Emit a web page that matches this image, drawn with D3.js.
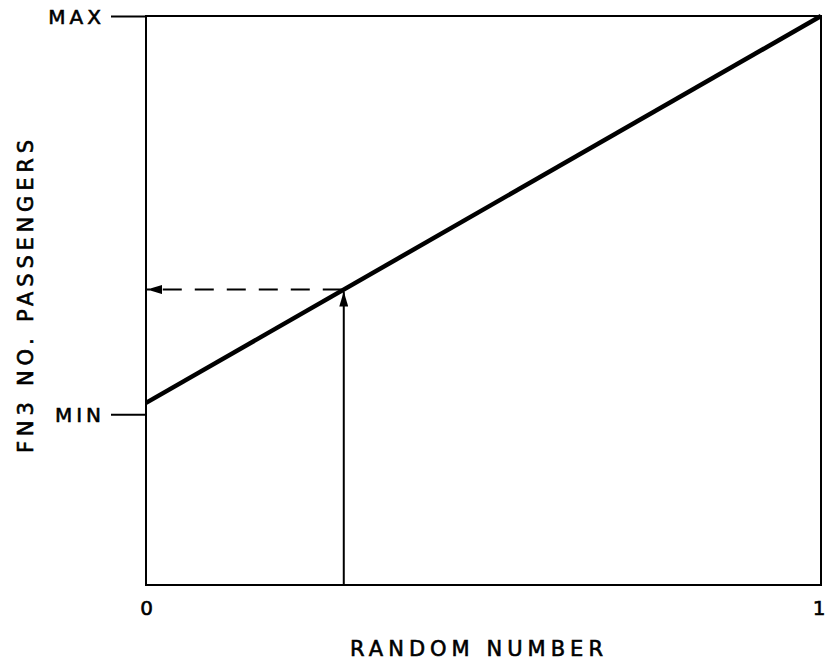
<!DOCTYPE html>
<html>
<head>
<meta charset="utf-8">
<script src="https://cdn.jsdelivr.net/npm/d3@7"></script>
<style>
  body { margin: 0; background: #fff; }
  text { font-family: "DejaVu Sans", sans-serif; fill: #000; stroke: #000; stroke-width: 0.6px; }
</style>
</head>
<body>
<script>
// valores
var xTickValues = [0, 1];
var xTickLabels = ["0", "1"];
var yTickValues = [0.30, 1];
var yTickLabels = ["MIN", "MAX"];
var lineX = [0, 1];
var lineY = [0.32, 1];
var sampleX = 0.293;   // numero aleatorio de exemplo
var xTitle = "RANDOM NUMBER";
var yTitle = "FN3 NO. PASSENGERS";

var margin = {top: 16, right: 4, bottom: 76, left: 146},
    width = 825 - margin.left - margin.right,
    height = 661 - margin.top - margin.bottom;

var svg = d3.select("body").append("svg")
    .attr("width", 825)
    .attr("height", 661);

var g = svg.append("g")
    .attr("transform", "translate(" + margin.left + "," + margin.top + ")");

var xScale = d3.scaleLinear().domain([0, 1]).range([0, width]);
var yScale = d3.scaleLinear().domain([0, 1]).range([height, 0]);

// setas
var defs = svg.append("defs");
defs.append("marker")
    .attr("id", "arrow")
    .attr("viewBox", "0 0 10 10")
    .attr("preserveAspectRatio", "none")
    .attr("refX", 10).attr("refY", 5)
    .attr("markerUnits", "userSpaceOnUse")
    .attr("markerWidth", 15).attr("markerHeight", 9)
    .attr("orient", "auto")
    .append("path")
    .attr("d", "M0,0 L10,5 L0,10 Z")
    .attr("fill", "#000");

// caixa
g.append("rect")
    .attr("x", 0).attr("y", 0)
    .attr("width", width).attr("height", height)
    .attr("fill", "none")
    .attr("stroke", "#000")
    .attr("stroke-width", 2);

// eixo y (MIN / MAX)
var yAxis = d3.axisLeft(yScale)
    .tickValues(yTickValues)
    .tickFormat((d, i) => yTickLabels[i])
    .tickSize(35)
    .tickPadding(10);

var ya = g.append("g").call(yAxis);
ya.select(".domain").remove();
ya.attr("font-family", null);
ya.selectAll("line").attr("stroke", "#000").attr("stroke-width", 2);
ya.selectAll("text")
    .style("font-size", "20px")
    .style("letter-spacing", "4px")
    .attr("dx", 4)
    .attr("dy", "0.36em");

// eixo x (0 / 1)
var xAxis = d3.axisBottom(xScale)
    .tickValues(xTickValues)
    .tickFormat((d, i) => xTickLabels[i])
    .tickSize(0)
    .tickPadding(16);

var xa = g.append("g")
    .attr("transform", "translate(0," + height + ")")
    .call(xAxis);
xa.select(".domain").remove();
xa.attr("font-family", null);
xa.selectAll("text").style("font-size", "20px");
xa.selectAll(".tick:last-of-type text").attr("text-anchor", "end").attr("dx", 4);

// linha principal
var lineData = lineX.map((x, i) => ({x: x, y: lineY[i]}));
var line = d3.line().x(d => xScale(d.x)).y(d => yScale(d.y));

g.append("path")
    .datum(lineData)
    .attr("d", line)
    .attr("fill", "none")
    .attr("stroke", "#000")
    .attr("stroke-width", 4.5);

// exemplo: numero aleatorio -> passageiros
var sampleY = lineY[0] + (lineY[1] - lineY[0]) * sampleX;

g.append("line")
    .attr("x1", xScale(sampleX)).attr("y1", yScale(0))
    .attr("x2", xScale(sampleX)).attr("y2", yScale(sampleY) + 2)
    .attr("stroke", "#000")
    .attr("stroke-width", 2)
    .attr("marker-end", "url(#arrow)");

g.append("line")
    .attr("x1", xScale(sampleX) - 2).attr("y1", yScale(sampleY))
    .attr("x2", xScale(0) + 1).attr("y2", yScale(sampleY))
    .attr("stroke", "#000")
    .attr("stroke-width", 2)
    .attr("stroke-dasharray", "19,13")
    .attr("marker-end", "url(#arrow)");

// titulos
svg.append("text")
    .attr("x", 350)
    .attr("y", 656)
    .attr("textLength", 253)
    .attr("lengthAdjust", "spacing")
    .style("font-size", "21px")
    .text(xTitle);

svg.append("text")
    .attr("transform", "translate(33,453) rotate(-90)")
    .attr("textLength", 313)
    .attr("lengthAdjust", "spacing")
    .style("font-size", "21px")
    .text(yTitle);
</script>
</body>
</html>
